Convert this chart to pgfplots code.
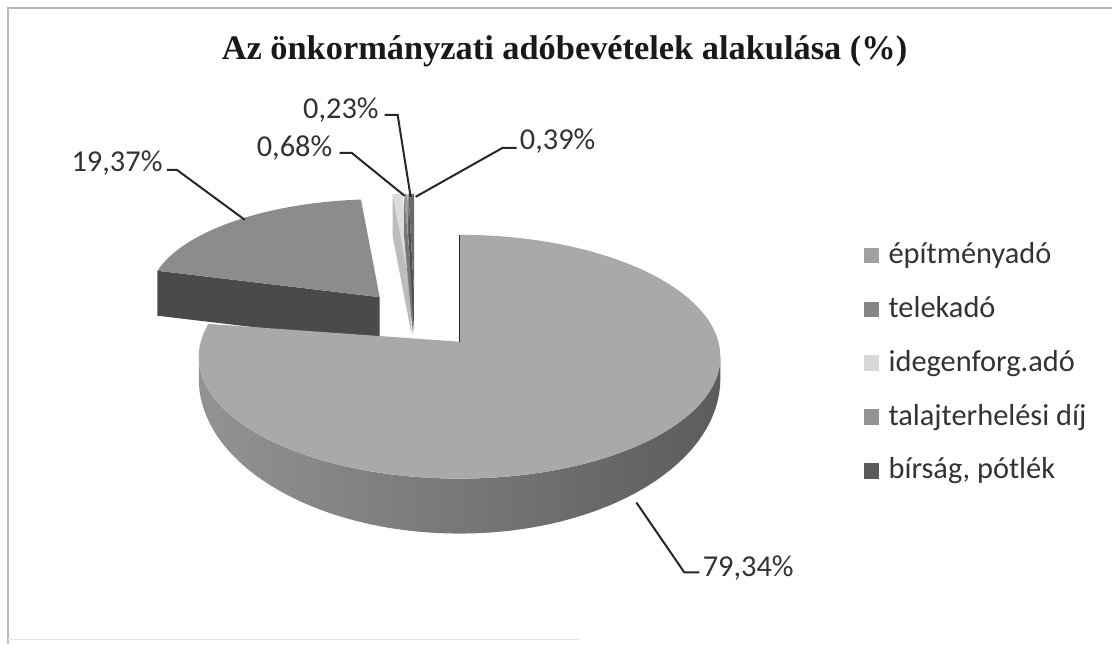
\documentclass[border=0pt]{standalone}
\usepackage{pgfplots}
\pgfplotsset{compat=1.18}
\usepackage{pgfplotstable}
\usepackage{fontspec}
\setmainfont{Carlito}
\newfontfamily\titlefont{Liberation Serif}
\usetikzlibrary{calc}

\definecolor{lbl}{HTML}{333333}
\definecolor{topA}{HTML}{A9A9A9}
\definecolor{wallL}{HTML}{939393}
\definecolor{wallR}{HTML}{5C5C5C}
\definecolor{topB}{HTML}{8C8C8C}
\definecolor{sideB}{HTML}{4A4A4A}
\definecolor{topC}{HTML}{DCDCDC}
\definecolor{sideC}{HTML}{BDBDBD}
\definecolor{topD}{HTML}{9A9A9A}
\definecolor{sideD}{HTML}{777777}
\definecolor{topE}{HTML}{6A6A6A}
\definecolor{sideE}{HTML}{505050}
\definecolor{legA}{HTML}{A0A0A0}
\definecolor{legB}{HTML}{858585}
\definecolor{legC}{HTML}{D8D8D8}
\definecolor{legD}{HTML}{939393}
\definecolor{legE}{HTML}{5A5A5A}

\pgfplotstableread[col sep=semicolon]{
label;value
építményadó;79.34
telekadó;19.37
idegenforg.adó;0.68
talajterhelési díj;0.23
bírság, pótlék;0.39
}\piedata

\begin{document}
\begin{tikzpicture}
\pgfplotstablegetelem{0}{value}\of\piedata \let\vA\pgfplotsretval
\pgfplotstablegetelem{1}{value}\of\piedata \let\vB\pgfplotsretval
\pgfplotstablegetelem{2}{value}\of\piedata \let\vC\pgfplotsretval
\pgfplotstablegetelem{3}{value}\of\piedata \let\vD\pgfplotsretval
\pgfplotstablegetelem{4}{value}\of\piedata \let\vE\pgfplotsretval
% slice angles: start at 12 o'clock, clockwise
\pgfmathsetmacro\aA{90}
\pgfmathsetmacro\bA{\aA-3.6*\vA}
\pgfmathsetmacro\bB{\bA-3.6*\vB}
\pgfmathsetmacro\bC{\bB-3.6*\vC}
\pgfmathsetmacro\bD{\bC-3.6*\vD}
\pgfmathsetmacro\bE{\bD-3.6*\vE}
\pgfmathsetmacro\mA{(\aA+\bA)/2}
\pgfmathsetmacro\mB{(\bA+\bB)/2}
\pgfmathsetmacro\mC{(\bB+\bC)/2}
\pgfmathsetmacro\mD{(\bC+\bD)/2}
\pgfmathsetmacro\mE{(\bD+\bE)/2}
% explosion (fraction of radius); front slice and back slices (perspective: back ones smaller)
\def\ex{0.238}
\def\Cx{422.4}\def\Cy{333.9}      % centre for the front slice
\def\Bx{415.0}\def\By{315.4}      % centre for the back slices
\pgfmathsetmacro\AxA{\Cx+\ex*261*cos(\mA)}\pgfmathsetmacro\AyA{\Cy-\ex*122*sin(\mA)}
\pgfmathsetmacro\AxB{\Bx+\ex*231*cos(\mB)}\pgfmathsetmacro\AyB{\By-\ex*98*sin(\mB)}
\pgfmathsetmacro\AxC{\Bx+\ex*231*cos(\mC)}\pgfmathsetmacro\AyC{\By-\ex*98*sin(\mC)}
\pgfmathsetmacro\AxD{\Bx+\ex*231*cos(\mD)}\pgfmathsetmacro\AyD{\By-\ex*98*sin(\mD)}
\pgfmathsetmacro\AxE{\Bx+\ex*231*cos(\mE)}\pgfmathsetmacro\AyE{\By-\ex*98*sin(\mE)}
\begin{axis}[
  width=556.5pt, height=322.5pt, scale only axis,
  xmin=0, xmax=1113, ymin=0, ymax=645, y dir=reverse,
  hide axis, clip=false,
  legend image code/.code={\path[#1, draw=none] (0pt,-3.8pt) rectangle (7.6pt,3.8pt); \path (10.3pt,0pt);},
  legend style={at={(axis cs:858,232)}, anchor=north west, draw=none, fill=none,
    font=\fontsize{15.2}{18}\selectfont, text=lbl, row sep=8pt,
    nodes={inner sep=2pt, text height=11.5pt, text depth=3.5pt}},
  legend cell align=left,
]
\path[draw=none] (axis cs:0,0) rectangle (axis cs:1113,645);
% frame
\draw[gray!55, line width=1pt] (axis cs:8,645) -- (axis cs:8,8) -- (axis cs:1113,8);
\draw[gray!20, line width=0.8pt] (axis cs:8,640) -- (axis cs:580,640);

\coordinate (EA) at (axis cs:\AxA,\AyA);   % ellipse centre of the front slice
\coordinate (PA) at ($(EA)+(0pt,7.5pt)$);  % its apex (perspective shift)
\coordinate (PB) at (axis cs:\AxB,\AyB);
\coordinate (PC) at (axis cs:\AxC,\AyC);
\coordinate (PD) at (axis cs:\AxD,\AyD);
\coordinate (PE) at (axis cs:\AxE,\AyE);

% telekado (back left)
\fill[sideB] (PB) -- ++(\bA:115.5pt and 49pt) -- ++(0,-22.5pt) -- ($(PB)+(0,-22.5pt)$) -- cycle;
\fill[topB] (PB) -- ++(\bA:115.5pt and 49pt) arc[start angle=\bA, end angle=\bB, x radius=115.5pt, y radius=49pt] -- cycle;
% small slivers
\fill[sideC] (PC) -- ++(\bB:115.5pt and 49pt) -- ++(0,-21pt) -- ($(PC)+(0,-21pt)$) -- cycle;
\fill[topC] (PC) -- ++(\bB:115.5pt and 49pt) arc[start angle=\bB, end angle=\bC, x radius=115.5pt, y radius=49pt] -- cycle;
\fill[sideD] (PD) -- ++(\bC:115.5pt and 49pt) -- ++(0,-21pt) -- ($(PD)+(0,-21pt)$) -- cycle;
\fill[topD] (PD) -- ++(\bC:115.5pt and 49pt) arc[start angle=\bC, end angle=\bD, x radius=115.5pt, y radius=49pt] -- cycle;
\fill[sideE] (PE) -- ++(\bD:115.5pt and 49pt) -- ++(0,-21pt) -- ($(PE)+(0,-21pt)$) -- cycle;
\fill[topE] (PE) -- ++(\bD:115.5pt and 49pt) arc[start angle=\bD, end angle=\bE, x radius=115.5pt, y radius=49pt] -- cycle;
% epitmenyado (front): wall thinner at the sides, thicker at the front
\shade[left color=wallL, right color=wallR] (EA) ++(-180:130.5pt and 61pt) arc[start angle=-180, end angle=0, x radius=130.5pt, y radius=61pt] -- ++(0,-11pt) arc[start angle=0, end angle=-180, x radius=130.5pt, y radius=77.5pt] -- cycle;
\fill[topA] (PA) -- ($(EA)+(\aA:130.5pt and 61pt)$) arc[start angle=\aA, end angle=\bA, x radius=130.5pt, y radius=61pt] -- cycle;
\draw[gray!30!black, line width=0.7pt] (PA) -- ($(EA)+(\aA:130.5pt and 61pt)$);

% title
\node[font=\titlefont\bfseries\fontsize{17.2}{20}\selectfont, text=black!90, anchor=base, inner sep=0pt] at (axis cs:565,60) {Az önkormányzati adóbevételek alakulása (\%)};

% data labels and leaders
\node[font=\fontsize{15.2}{18}\selectfont, text=lbl, inner sep=0pt, anchor=base east] at (axis cs:163,172) {19,37\%};
\node[font=\fontsize{15.2}{18}\selectfont, text=lbl, inner sep=0pt, anchor=base east] at (axis cs:333,157) {0,68\%};
\node[font=\fontsize{15.2}{18}\selectfont, text=lbl, inner sep=0pt, anchor=base west] at (axis cs:303,119) {0,23\%};
\node[font=\fontsize{15.2}{18}\selectfont, text=lbl, inner sep=0pt, anchor=base west] at (axis cs:520,150) {0,39\%};
\node[font=\fontsize{15.2}{18}\selectfont, text=lbl, inner sep=0pt, anchor=base west] at (axis cs:703,577) {79,34\%};
\draw[black!85, line width=1pt] (axis cs:167,170) -- (axis cs:177,170) -- (axis cs:245,220);
\draw[black!85, line width=1pt] (axis cs:340,153) -- (axis cs:352,153) -- (axis cs:405,196);
\draw[black!85, line width=1pt] (axis cs:385,115) -- (axis cs:398,115) -- (axis cs:411,197);
\draw[black!85, line width=1pt] (axis cs:517,148) -- (axis cs:503,148) -- (axis cs:416,197);
\draw[black!85, line width=1pt] (axis cs:637,503) -- (axis cs:685,573) -- (axis cs:700,573);

\addlegendimage{fill=legA}\addlegendentry{építményadó}
\addlegendimage{fill=legB}\addlegendentry{telekadó}
\addlegendimage{fill=legC}\addlegendentry{idegenforg.adó}
\addlegendimage{fill=legD}\addlegendentry{talajterhelési díj}
\addlegendimage{fill=legE}\addlegendentry{bírság, pótlék}
\end{axis}
\end{tikzpicture}
\end{document}
